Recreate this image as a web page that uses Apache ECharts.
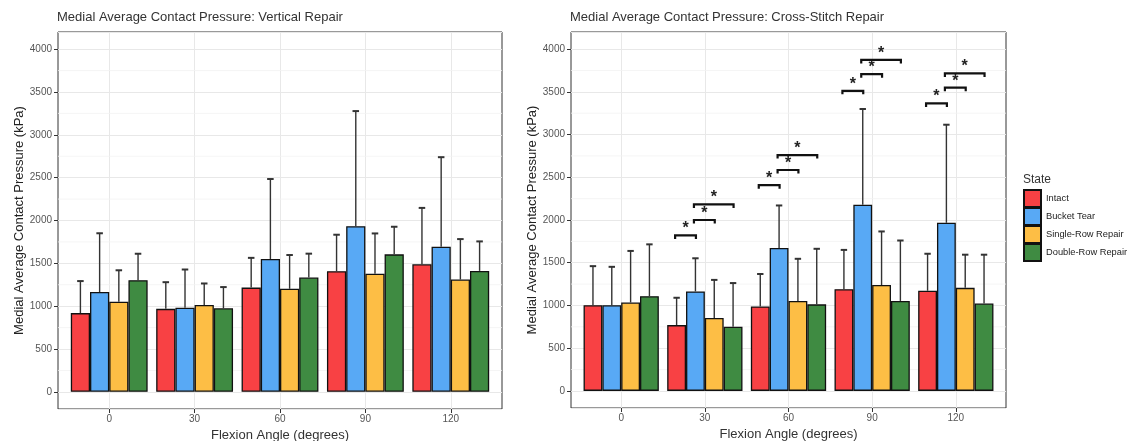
<!DOCTYPE html>
<html>
<head>
<meta charset="utf-8">
<script src="https://cdn.jsdelivr.net/npm/echarts@6.0.0/dist/echarts.min.js"></script>
<style>
  html, body { margin: 0; padding: 0; background: #fff; }
  #chart { width: 1129px; height: 441px; }
</style>
</head>
<body>
<div id="chart"></div>
<script>
// categories
const angles = ["0", "30", "60", "90", "120"];
const states = ["Intact", "Bucket Tear", "Single-Row Repair", "Double-Row Repair"];
const stateColors = ["#f84144", "#58a9f5", "#fdbe45", "#3f8b42"];

// Vertical repair: means and mean + sd (top of whisker), kPa
const vertMean = {
  "Intact": [919, 969, 1217, 1408, 1489],
  "Bucket Tear": [1165, 982, 1551, 1934, 1694],
  "Single-Row Repair": [1052, 1014, 1203, 1378, 1311],
  "Double-Row Repair": [1304, 975, 1335, 1605, 1412],
};
const vertUpper = {
  "Intact": [1293, 1280, 1564, 1834, 2147],
  "Bucket Tear": [1851, 1428, 2484, 3277, 2739],
  "Single-Row Repair": [1419, 1265, 1597, 1849, 1783],
  "Double-Row Repair": [1612, 1223, 1613, 1927, 1756],
};

// Cross-stitch repair
const crossMean = {
  "Intact": [1003, 770, 989, 1190, 1172],
  "Bucket Tear": [1003, 1164, 1672, 2178, 1967],
  "Single-Row Repair": [1034, 854, 1053, 1239, 1206],
  "Double-Row Repair": [1109, 751, 1013, 1053, 1022],
};
const crossUpper = {
  "Intact": [1460, 1090, 1368, 1650, 1605],
  "Bucket Tear": [1452, 1552, 2170, 3299, 3115],
  "Single-Row Repair": [1638, 1299, 1546, 1866, 1594],
  "Double-Row Repair": [1715, 1262, 1663, 1760, 1594],
};

// significance brackets: [angle index, from state, to state, height kPa]
const crossSig = [
  [1, 0, 1, 1820], [1, 1, 2, 2000], [1, 1, 3, 2182],
  [2, 0, 1, 2408], [2, 1, 2, 2585], [2, 1, 3, 2760],
  [3, 0, 1, 3512], [3, 1, 2, 3706], [3, 1, 3, 3873],
  [4, 0, 1, 3364], [4, 1, 2, 3548], [4, 1, 3, 3715],
];

// minor y gridlines (ggplot style)
const minorBreaks = [250, 750, 1250, 1750, 2250, 2750, 3250, 3750];

const FONT = "Liberation Sans, Arial, sans-serif";
const DODGE = 0.9;

const chart = echarts.init(document.getElementById("chart"), null, { renderer: "canvas" });

function barX(api, cat, st) {
  const band = api.size([1, 0])[0];
  const bw = band * DODGE / states.length;
  return { cx: api.coord([cat, 0])[0] + (st - (states.length - 1) / 2) * bw, bw: bw };
}

function xAxisFor(gi) {
  return {
    type: "value", gridIndex: gi, min: -0.6, max: 4.6, splitNumber: 5,
    name: "Flexion Angle (degrees)", nameLocation: "middle", nameGap: 18,
    nameTextStyle: { fontFamily: FONT, fontSize: 13, color: "#333" },
    axisLine: { show: false, onZero: false },
    axisTick: { show: true, length: 4, lineStyle: { color: "#333" }, customValues: [0, 1, 2, 3, 4] },
    axisLabel: {
      fontFamily: FONT, fontSize: 10, color: "#555", margin: 5,
      customValues: [0, 1, 2, 3, 4],
      formatter: (v) => (Number.isInteger(v) && angles[v] !== undefined ? angles[v] : ""),
    },
    splitLine: { show: true, lineStyle: { color: "#e8e8e8", width: 1 } },
  };
}

function yAxisFor(gi) {
  return {
    type: "value", gridIndex: gi, min: -200, max: 4200, splitNumber: 9,
    name: "Medial Average Contact Pressure (kPa)", nameLocation: "middle", nameGap: 32,
    nameTextStyle: { fontFamily: FONT, fontSize: 13, color: "#222" },
    axisLine: { show: false, onZero: false },
    axisTick: { show: true, length: 4, lineStyle: { color: "#333" } },
    axisLabel: {
      fontFamily: FONT, fontSize: 10, color: "#555", margin: 6,
      showMinLabel: false, showMaxLabel: false,
      formatter: (v) => (v >= 0 && v <= 4000 && v % 500 === 0 ? String(v) : ""),
    },
    splitLine: { show: true, lineStyle: { color: "#e8e8e8", width: 1 } },
  };
}

function panelSeries(gi, means, uppers, sig) {
  const out = [];
  out.push({
    type: "custom", xAxisIndex: gi, yAxisIndex: gi, silent: true, z: 1,
    data: minorBreaks.map((v) => [0, v]),
    encode: { x: 0, y: 1 },
    renderItem: (params, api) => {
      const cs = params.coordSys;
      const y = api.coord([0, api.value(1)])[1];
      return { type: "line", shape: { x1: cs.x, y1: y, x2: cs.x + cs.width, y2: y },
        style: { stroke: "#f2f2f2", lineWidth: 0.8 } };
    },
  });
  states.forEach((s, si) => {
    out.push({
      type: "bar", name: s, xAxisIndex: gi, yAxisIndex: gi, z: 3,
      barWidth: (DODGE * 100 / states.length) + "%", barGap: "0%",
      itemStyle: { color: stateColors[si], borderColor: "#111", borderWidth: 1.3 },
      emphasis: { disabled: true },
      data: means[s].map((v, ci) => [ci, v]),
    });
  });
  const errData = [];
  states.forEach((s, si) => {
    means[s].forEach((v, ci) => errData.push([ci, si, v, uppers[s][ci]]));
  });
  out.push({
    type: "custom", xAxisIndex: gi, yAxisIndex: gi, silent: true, z: 4,
    data: errData, encode: { x: 0, y: 3 },
    renderItem: (params, api) => {
      const p = barX(api, api.value(0), api.value(1));
      const yb = api.coord([0, api.value(2)])[1];
      const yt = api.coord([0, api.value(3)])[1];
      const cap = p.bw * 0.34;
      const st = { stroke: "#333", lineWidth: 1.4 };
      return { type: "group", children: [
        { type: "line", shape: { x1: p.cx, y1: yb, x2: p.cx, y2: yt }, style: st },
        { type: "line", shape: { x1: p.cx - cap / 2, y1: yt, x2: p.cx + cap / 2, y2: yt }, style: { stroke: "#333", lineWidth: 2 } },
      ] };
    },
  });
  if (sig) {
    out.push({
      type: "custom", xAxisIndex: gi, yAxisIndex: gi, silent: true, z: 5,
      data: sig, encode: { x: 0, y: 3 },
      renderItem: (params, api) => {
        const a = barX(api, api.value(0), api.value(1));
        const b = barX(api, api.value(0), api.value(2));
        const y = api.coord([0, api.value(3)])[1];
        const x1 = a.cx - 1.5, x2 = b.cx + 0.5;
        return { type: "group", children: [
          { type: "polyline", shape: { points: [[x1, y + 3.5], [x1, y], [x2, y], [x2, y + 3.5]] },
            style: { stroke: "#111", lineWidth: 2.2, fill: null } },
          { type: "text", x: (x1 + x2) / 2, y: y + 1.5,
            style: { text: "*", font: "bold 16px " + FONT, fill: "#222", align: "center", verticalAlign: "bottom" } },
        ] };
      },
    });
  }
  return out;
}

const option = {
  backgroundColor: "#fff",
  animation: false,
  title: [
    { text: "Medial Average Contact Pressure: Vertical Repair", left: 57, top: 11, padding: 0,
      textStyle: { fontFamily: FONT, fontSize: 13, fontWeight: "normal", color: "#333" } },
    { text: "Medial Average Contact Pressure: Cross-Stitch Repair", left: 570, top: 11, padding: 0,
      textStyle: { fontFamily: FONT, fontSize: 13, fontWeight: "normal", color: "#333" } },
    { text: "State", left: 1023, top: 174, padding: 0,
      textStyle: { fontFamily: FONT, fontSize: 12, fontWeight: "normal", color: "#333" } },
  ],
  legend: {
    data: states, orient: "vertical", left: 1023, top: 189,
    itemWidth: 17, itemHeight: 17, itemGap: -1, icon: "rect", padding: 0,
    textStyle: { fontFamily: FONT, fontSize: 9.3, color: "#222" },
    selectedMode: false,
  },
  grid: [
    { left: 58, top: 32, width: 444, height: 377, show: true, borderColor: "#333", borderWidth: 1,
      backgroundColor: "transparent", outerBoundsMode: "none", containLabel: false },
    { left: 571, top: 32, width: 435, height: 376, show: true, borderColor: "#333", borderWidth: 1,
      backgroundColor: "transparent", outerBoundsMode: "none", containLabel: false },
  ],
  xAxis: [xAxisFor(0), xAxisFor(1)],
  yAxis: [yAxisFor(0), yAxisFor(1)],
  series: [
    ...panelSeries(0, vertMean, vertUpper, null),
    ...panelSeries(1, crossMean, crossUpper, crossSig),
  ],
};

chart.setOption(option);
</script>
</body>
</html>
